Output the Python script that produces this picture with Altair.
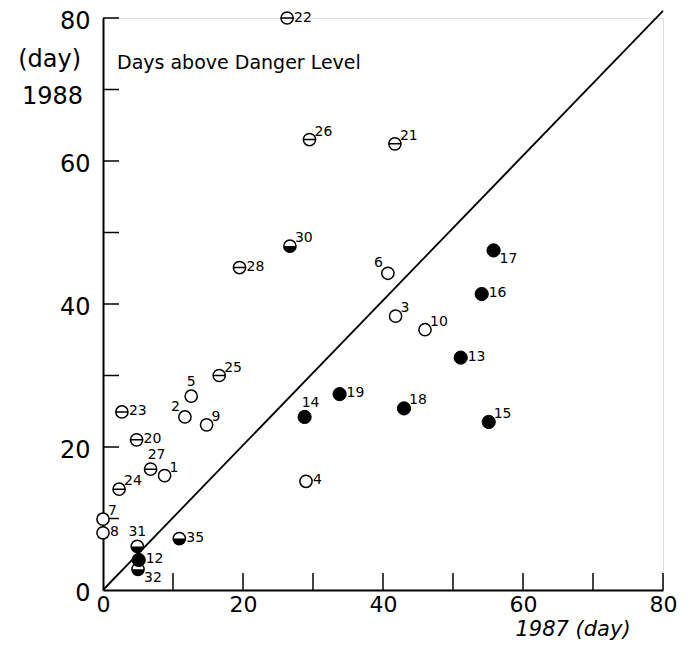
import altair as alt
import pandas as pd

# ---- data ----
ids = ["22", "26", "21", "30", "28", "6", "3", "25", "17", "16", "10", "13", "18", "15",
       "5", "2", "9", "23", "20", "27", "1", "24", "7", "8", "14", "19", "4", "31", "12", "32", "35"]
x1987 = [26.3, 29.5, 41.7, 26.7, 19.5, 40.7, 41.8, 16.6, 55.8, 54.1, 46.0, 51.1, 43.0, 55.1,
         12.6, 11.7, 14.8, 2.7, 4.8, 6.8, 8.8, 2.3, 0.0, 0.0, 28.8, 33.8, 29.0, 4.9, 5.1, 5.0, 10.9]
y1988 = [80.0, 63.0, 62.4, 48.1, 45.1, 44.3, 38.3, 30.0, 47.5, 41.4, 36.4, 32.5, 25.4, 23.5,
         27.1, 24.2, 23.1, 24.9, 21.0, 16.9, 16.0, 14.1, 9.9, 8.0, 24.2, 27.4, 15.2, 6.1, 4.2, 2.9, 7.2]
kind = ["theta", "theta", "theta", "half", "theta", "open", "open", "theta", "filled", "filled",
        "open", "filled", "filled", "filled", "open", "open", "open", "theta", "theta", "theta",
        "open", "theta", "open", "open", "filled", "filled", "open", "half", "filled", "half", "half"]
label_pos = ["ne_low", "ne", "ne", "ne", "e", "nw", "ne", "ne", "se", "e", "ne", "e", "ne", "ne",
             "n", "nw", "ne", "e", "e", "nr", "ne", "ne", "ne", "e", "nr", "e", "e", "n", "e", "se", "e"]

line_x = [0, 80]
line_y = [0, 81]
tick_values = [10, 20, 30, 40, 50, 60, 70, 80]
label_values = [0, 20, 40, 60, 80]

df = pd.DataFrame({"id": ids, "x": x1987, "y": y1988, "kind": kind, "pos": label_pos})
line_df = pd.DataFrame({"x": line_x, "y": line_y})
tick_df = pd.DataFrame({"v": tick_values})

FONT = "DejaVu Sans"
W, H = 560, 572

xscale = alt.Scale(domain=[0, 80], nice=False, zero=True)
yscale = alt.Scale(domain=[0, 80], nice=False, zero=True)

xaxis = alt.Axis(values=label_values, ticks=False, tickSize=0, grid=False, domainColor="black",
                 domainWidth=2, labelFont=FONT, labelFontSize=22, labelColor="black",
                 labelPadding=4, title=None, labelFlush=False, labelOverlap=False)
yaxis = alt.Axis(values=label_values, ticks=False, tickSize=0, grid=False, domainColor="black",
                 domainWidth=2, labelFont=FONT, labelFontSize=24, labelColor="black",
                 labelPadding=13, title=None, labelFlush=False, labelOverlap=False, labelOffset=3)

X = lambda f: alt.X(f, scale=xscale, axis=xaxis)
Y = lambda f: alt.Y(f, scale=yscale, axis=yaxis)

diag = alt.Chart(line_df).mark_line(color="black", strokeWidth=1.8, clip=False).encode(
    x=X("x:Q"), y=Y("y:Q"))

xticks = alt.Chart(tick_df).mark_rule(color="black", strokeWidth=1.5).encode(
    x=X("v:Q"), y=alt.value(H), y2=alt.value(H - 17))
yticks = alt.Chart(tick_df).mark_rule(color="black", strokeWidth=1.5).encode(
    y=Y("v:Q"), x=alt.value(0), x2=alt.value(16))

base = alt.Chart(df).encode(x=X("x:Q"), y=Y("y:Q"))

SIZE = 150
THETA = "M-1,0A1,1,0,1,1,1,0A1,1,0,1,1,-1,0ZM-1,0L1,0"
HALF = "M-1,0A1,1,0,0,0,1,0Z"

open_pts = base.transform_filter(alt.datum.kind == "open").mark_point(
    shape="circle", filled=True, fill="white", stroke="black", strokeWidth=1.5, size=SIZE, opacity=1)
theta_pts = base.transform_filter(alt.datum.kind == "theta").mark_point(
    shape=THETA, filled=False, stroke="black", strokeWidth=1.5, size=SIZE, opacity=1)
filled_pts = base.transform_filter(alt.datum.kind == "filled").mark_point(
    shape="circle", filled=True, fill="black", stroke="black", strokeWidth=1, size=SIZE + 25, opacity=1)
half_ring = base.transform_filter(alt.datum.kind == "half").mark_point(
    shape="circle", filled=True, fill="white", stroke="black", strokeWidth=1.5, size=SIZE, opacity=1)
half_fill = base.transform_filter(alt.datum.kind == "half").mark_point(
    shape=HALF, filled=True, fill="black", strokeWidth=0, size=SIZE, opacity=1)

offsets = {
    "ne": dict(align="left", dx=5, dy=-8),
    "ne_low": dict(align="left", dx=7, dy=0),
    "e": dict(align="left", dx=7, dy=-1),
    "n": dict(align="center", dx=0, dy=-14),
    "nr": dict(align="center", dx=6, dy=-14),
    "nw": dict(align="right", dx=-5, dy=-10),
    "se": dict(align="left", dx=6, dy=9),
}
label_layers = []
for code, o in offsets.items():
    label_layers.append(
        base.transform_filter(alt.datum.pos == code).mark_text(
            font=FONT, fontSize=14, color="black", baseline="middle", **o
        ).encode(text="id:N")
    )

def note(txt, x, y, size, align, style="normal"):
    return alt.Chart(pd.DataFrame({"t": [txt]})).mark_text(
        font=FONT, fontSize=size, color="black", align=align, baseline="middle",
        fontStyle=style).encode(text="t:N", x=alt.value(x), y=alt.value(y))

notes = [
    note("Days above Danger Level", 14, 45, 19, "left"),
    note("(day)", -22, 42, 24, "right"),
    note("1988", -20, 79, 24, "right"),
    note("1987 (day)", 470, 612, 21, "center", "italic"),
]

chart = alt.layer(
    diag, xticks, yticks, open_pts, theta_pts, half_ring, half_fill, filled_pts,
    *label_layers, *notes
).properties(
    width=W, height=H,
    autosize=alt.AutoSizeParams(type="none"),
    padding={"left": 95, "top": 10, "right": 17, "bottom": 56},
).configure_view(stroke=None).configure(background="white")

chart.save("out.html", embed_options={"renderer": "svg", "actions": False})
